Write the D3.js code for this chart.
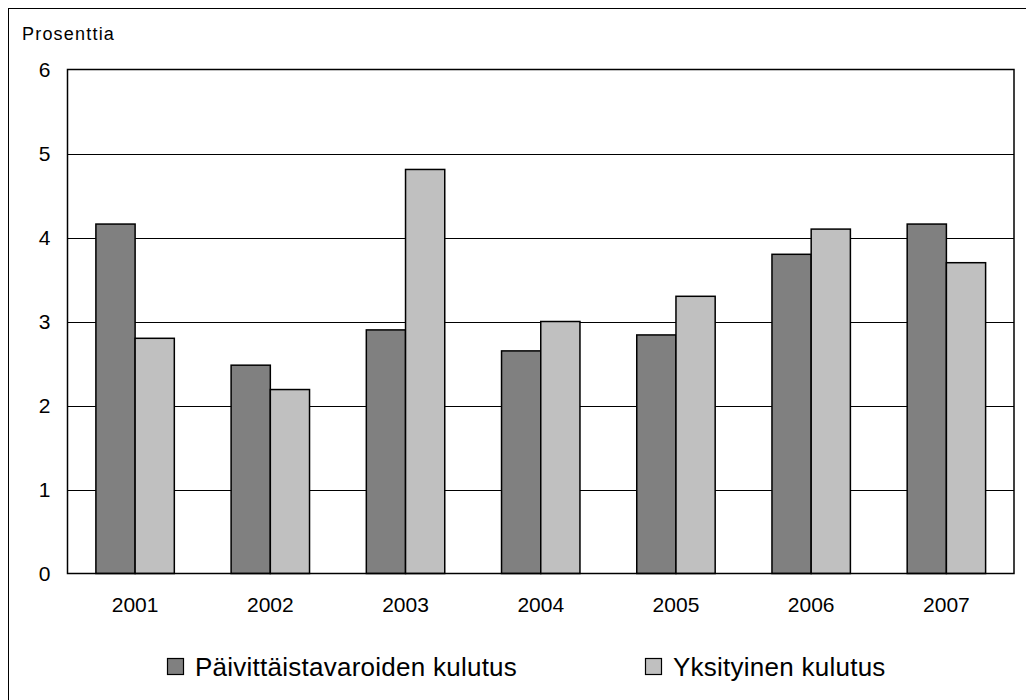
<!DOCTYPE html>
<html>
<head>
<meta charset="utf-8">
<script src="https://cdn.jsdelivr.net/npm/d3@7"></script>
<style>
  html, body { margin: 0; padding: 0; background: #fff; }
  svg { display: block; font-family: "Liberation Sans", Arial, sans-serif; }
</style>
</head>
<body>
<svg id="chart" width="1026" height="700"></svg>
<script>
const years = ["2001", "2002", "2003", "2004", "2005", "2006", "2007"];
const seriesNames = ["Päivittäistavaroiden kulutus", "Yksityinen kulutus"];
const paivittaistavarat = [4.16, 2.48, 2.90, 2.65, 2.84, 3.80, 4.16];
const yksityinen = [2.80, 2.19, 4.81, 3.00, 3.30, 4.10, 3.70];
const yTicks = [0, 1, 2, 3, 4, 5, 6];
const yLabel = "Prosenttia";
const colors = ["#808080", "#c0c0c0"];

const svg = d3.select("#chart");

// outer frame
svg.append("rect")
  .attr("x", 8.5).attr("y", 8.5)
  .attr("width", 1100).attr("height", 800)
  .attr("fill", "none").attr("stroke", "#000").attr("stroke-width", 1);

const plotL = 67.5, plotR = 1014, plotT = 69.5, plotB = 573.5;

const x = d3.scaleBand().domain(years).range([plotL, plotR])
  .paddingInner(0.42).paddingOuter(0.21);
const xs = d3.scaleBand().domain(seriesNames).range([0, x.bandwidth()]);
const y = d3.scaleLinear().domain([0, 6]).range([plotB, plotT]);

// gridlines
svg.append("g").selectAll("line").data(yTicks.filter(d => d > 0 && d < 6)).join("line")
  .attr("x1", plotL).attr("x2", plotR)
  .attr("y1", d => Math.round(y(d)) + 0.5).attr("y2", d => Math.round(y(d)) + 0.5)
  .attr("stroke", "#000").attr("stroke-width", 1);

// bars
const data = years.map((yr, i) => ({ year: yr, values: [paivittaistavarat[i], yksityinen[i]] }));
const groups = svg.append("g").selectAll("g").data(data).join("g")
  .attr("transform", d => `translate(${x(d.year)},0)`);
groups.selectAll("rect").data(d => d.values.map((v, j) => ({ v, s: seriesNames[j], j }))).join("rect")
  .attr("x", d => xs(d.s))
  .attr("y", d => y(d.v))
  .attr("width", xs.bandwidth())
  .attr("height", d => y(0) - y(d.v))
  .attr("fill", d => colors[d.j])
  .attr("stroke", "#000").attr("stroke-width", 1.5);

// plot frame
svg.append("rect")
  .attr("x", plotL).attr("y", plotT)
  .attr("width", plotR - plotL).attr("height", plotB - plotT)
  .attr("fill", "none").attr("stroke", "#000").attr("stroke-width", 1.5);

// y axis labels
const yAxis = d3.axisLeft(y).tickValues(yTicks).tickSize(0).tickPadding(17).tickFormat(d3.format("d"));
const gy = svg.append("g").attr("transform", `translate(${plotL},0)`).call(yAxis);
gy.select(".domain").remove();
gy.selectAll("text").attr("font-size", 21).attr("fill", "#000")
  .attr("font-family", "'Liberation Sans', Arial, sans-serif");

// x axis labels
const xAxis = d3.axisBottom(x).tickSize(0).tickPadding(24);
const gx = svg.append("g").attr("transform", `translate(0,${plotB})`).call(xAxis);
gx.select(".domain").remove();
gx.selectAll("text").attr("font-size", 21).attr("fill", "#000")
  .attr("font-family", "'Liberation Sans', Arial, sans-serif");

// y label
svg.append("text").attr("x", 22).attr("y", 40)
  .attr("font-size", 18).attr("letter-spacing", 1.2).attr("fill", "#000")
  .text(yLabel);

// legend
const legendX = [167, 645];
const leg = svg.append("g").selectAll("g").data(seriesNames).join("g")
  .attr("transform", (d, i) => `translate(${legendX[i]},0)`);
leg.append("rect").attr("x", 0.5).attr("y", 658.5).attr("width", 16).attr("height", 16)
  .attr("fill", (d, i) => colors[i]).attr("stroke", "#000").attr("stroke-width", 1.2);
leg.append("text").attr("x", 28).attr("y", 675.5)
  .attr("font-size", 26).attr("letter-spacing", 0.25).attr("fill", "#000").text(d => d);
</script>
</body>
</html>
